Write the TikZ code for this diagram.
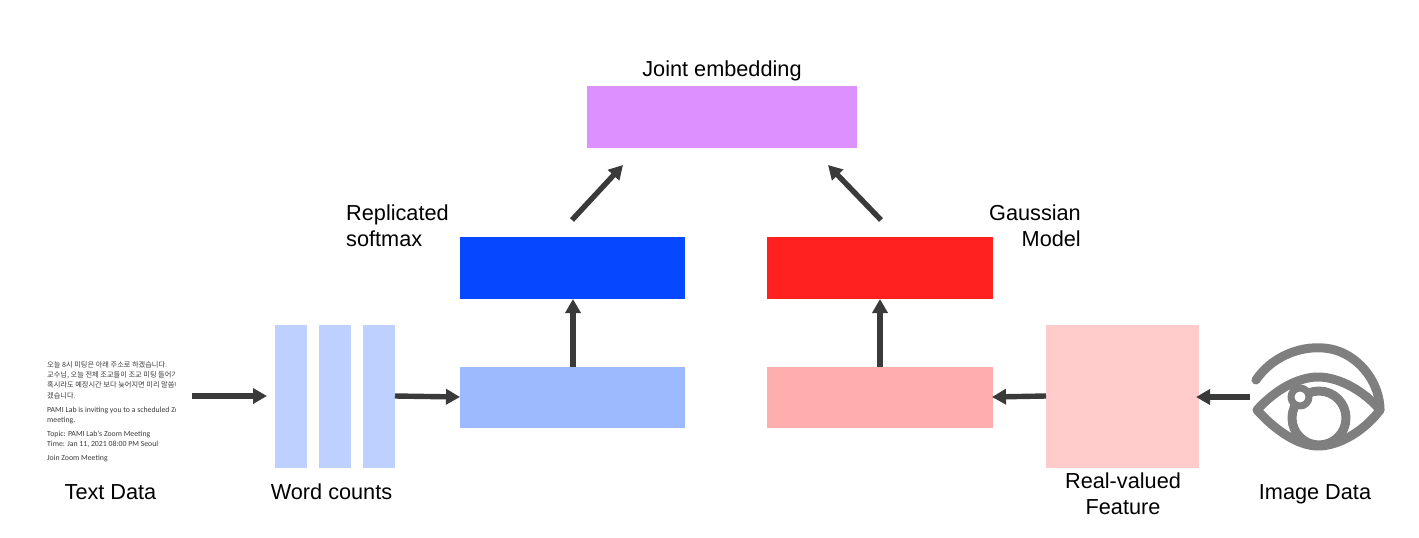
\documentclass[tikz,border=0pt]{standalone}
\usepackage{fontspec}
\setmainfont{Liberation Sans}
\newfontfamily\cjkdoc{Noto Sans CJK KR}
\newfontfamily\latdoc{Carlito}
\usetikzlibrary{arrows.meta}
\definecolor{barblue}{HTML}{BDD0FF}
\definecolor{lowblue}{HTML}{9DB9FF}
\definecolor{topblue}{HTML}{0548FF}
\definecolor{topred}{HTML}{FF2020}
\definecolor{lowred}{HTML}{FFAEAE}
\definecolor{feat}{HTML}{FFCCCB}
\definecolor{joint}{HTML}{DD90FF}
\definecolor{arrowc}{HTML}{3A3A3A}
\definecolor{eyec}{HTML}{7F7F7F}
\definecolor{doctext}{HTML}{3A3A3A}
\tikzset{
  box/.style={inner sep=0pt,outer sep=0pt,draw=none},
  lbl/.style={inner sep=0pt,font=\fontsize{21.7}{26}\selectfont,text=black},
  conn/.style={draw=arrowc,line width=5.4pt,-{Triangle[length=14pt,width=15pt]}},
  korline/.style={anchor=base west,inner sep=0pt,text=doctext,font=\cjkdoc\fontsize{7.2}{8}\selectfont},
  latline/.style={anchor=base west,inner sep=0pt,text=doctext,font=\latdoc\fontsize{7.8}{9}\selectfont},
  eyeline/.style={draw=eyec,line width=9pt,line join=round,line cap=round}
}
\newcommand{\rectnode}[6]{% name, x1,y1,x2,y2, colour
  \node[box,fill=#6,minimum width=#4pt-#2pt,minimum height=#5pt-#3pt,anchor=north west] (#1) at (#2,#3) {};}
\begin{document}
\begin{tikzpicture}[x=1pt,y=-1pt]
\useasboundingbox (0,0) rectangle (1419,538);
% boxes
\rectnode{bara}{275}{325}{307}{468}{barblue}
\rectnode{barb}{319}{325}{351}{468}{barblue}
\rectnode{barc}{363}{325}{395}{468}{barblue}
\rectnode{lowb}{460}{367}{685}{428}{lowblue}
\rectnode{topb}{460}{237}{685}{299}{topblue}
\rectnode{topr}{767}{237}{993}{299}{topred}
\rectnode{lowr}{767}{367}{993}{428}{lowred}
\rectnode{feature}{1046}{325}{1199}{468}{feat}
\rectnode{jointbox}{587}{86}{857}{148}{joint}
% labels
\node[lbl,anchor=base] (ljoint) at (722,76) {Joint embedding};
\node[lbl,align=left,anchor=west] (lrep) at (346,226) {Replicated\\softmax};
\node[lbl,align=right,anchor=east] (lgau) at (1081,226) {Gaussian\\Model};
\node[lbl,anchor=base] (ltext) at (110.5,499) {Text Data};
\node[lbl,anchor=base] (lword) at (331.5,499) {Word counts};
\node[lbl,align=center] (lreal) at (1123,494) {Real-valued\\Feature};
\node[lbl,anchor=base] (limg) at (1315,499) {Image Data};
% document text
\begin{scope}
\clip (40,355) rectangle (175,465);
\node[korline] (d1) at (47,367) {오늘 8시 미팅은 아래 주소로 하겠습니다.};
\node[korline] (d2) at (47,377) {교수님, 오늘 전체 조교들이 조교 미팅 들어가};
\node[korline] (d3) at (47,387) {혹시라도 예정시간 보다 늦어지면 미리 말씀해};
\node[korline] (d4) at (47,398) {겠습니다.};
\node[latline] (d5) at (47,412) {PAMI Lab is inviting you to a scheduled Zoom};
\node[latline] (d6) at (47,422) {meeting.};
\node[latline] (d7) at (47,436) {Topic: PAMI Lab's Zoom Meeting};
\node[latline] (d8) at (47,446) {Time: Jan 11, 2021 08:00 PM Seoul};
\node[latline] (d9) at (47,460) {Join Zoom Meeting};
\end{scope}
% eye
\draw[eyeline] (1256,380) .. controls (1275,352) and (1310,343) .. (1335,350)
  .. controls (1362,358) and (1380,385) .. (1380,410);
\draw[eyeline] (1257,410) .. controls (1275,390) and (1298,377) .. (1318,377)
  .. controls (1340,377) and (1365,392) .. (1380,410)
  .. controls (1365,430) and (1340,446) .. (1318,446)
  .. controls (1298,446) and (1275,430) .. (1257,410) -- cycle;
\draw[eyeline] (1319,418) circle (27);
\draw[eyeline,line width=7pt,fill=white] (1300,397) circle (9);
% connectors
\coordinate (dochere) at (192,396);
\coordinate (bartail) at (395,396);
\coordinate (lowbtop) at (573,367);
\coordinate (topbtop) at (573,299);
\coordinate (lowrtop) at (880,367);
\coordinate (toprtop) at (880,299);
\coordinate (bluefrom) at (572,220);
\coordinate (blueto) at (623,165);
\coordinate (redfrom) at (881,220);
\coordinate (redto) at (828,165);
\coordinate (featl) at (1046,396);
\coordinate (lowrr) at (992,397);
\coordinate (eyefrom) at (1250,397);
\coordinate (featr) at (1196,397);
\coordinate (barto) at (267,396);
\coordinate (lowbl) at (460,397);
\draw[conn] (dochere) -- (barto);
\draw[conn] (bartail) -- (lowbl);
\draw[conn] (lowbtop) -- (topbtop);
\draw[conn] (lowrtop) -- (toprtop);
\draw[conn] (bluefrom) -- (blueto);
\draw[conn] (redfrom) -- (redto);
\draw[conn] (featl) -- (lowrr);
\draw[conn] (eyefrom) -- (featr);
\end{tikzpicture}
\end{document}
